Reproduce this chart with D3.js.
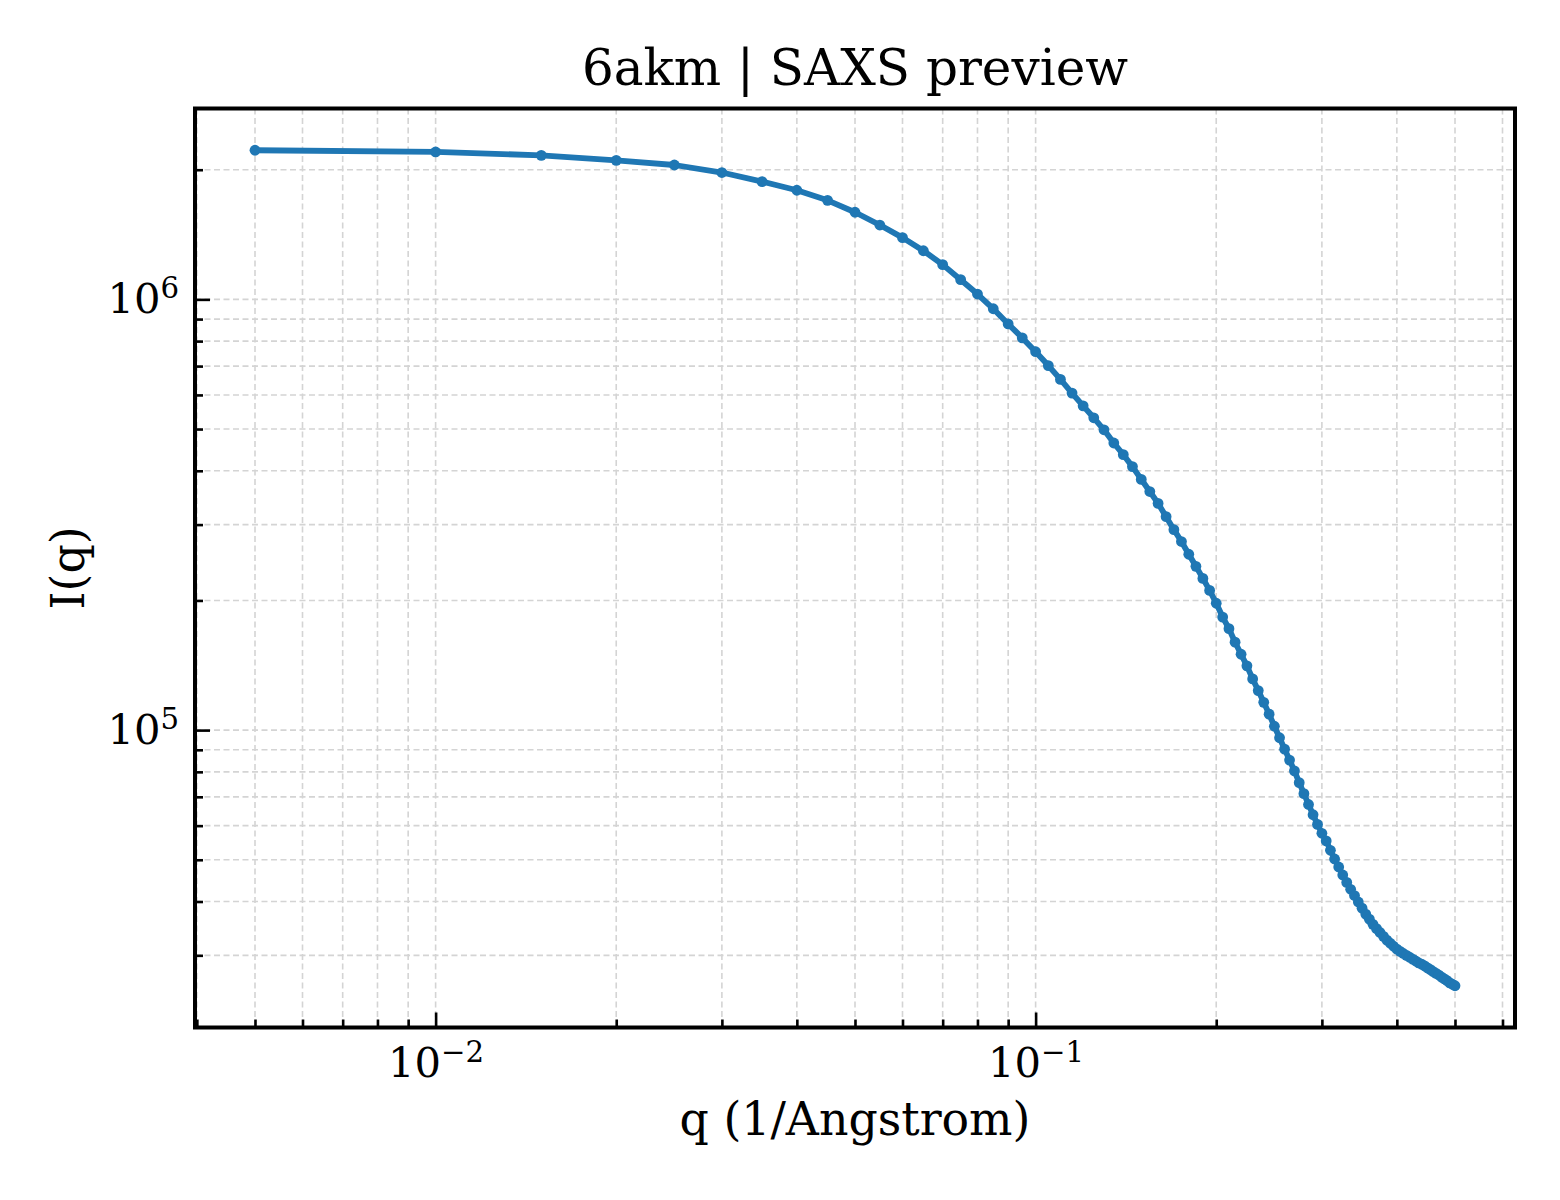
<!DOCTYPE html>
<html>
<head>
<meta charset="utf-8">
<script src="https://cdn.jsdelivr.net/npm/d3@7"></script>
<style>
    body { margin: 0; background: #fff; }
    text { font-family: "DejaVu Serif", serif; fill: #000; }
</style>
</head>
<body>
<div id="canvas"></div>
<script>
// scattering vector q (1/Angstrom)
const qValues = [
    0.005, 0.010, 0.015, 0.020, 0.025, 0.030, 0.035, 0.040, 0.045, 0.050,
    0.055, 0.060, 0.065, 0.070, 0.075, 0.080, 0.085, 0.090, 0.095, 0.100,
    0.105, 0.110, 0.115, 0.120, 0.125, 0.130, 0.135, 0.140, 0.145, 0.150,
    0.155, 0.160, 0.165, 0.170, 0.175, 0.180, 0.185, 0.190, 0.195, 0.200,
    0.205, 0.210, 0.215, 0.220, 0.225, 0.230, 0.235, 0.240, 0.245, 0.250,
    0.255, 0.260, 0.265, 0.270, 0.275, 0.280, 0.285, 0.290, 0.295, 0.300,
    0.305, 0.310, 0.315, 0.320, 0.325, 0.330, 0.335, 0.340, 0.345, 0.350,
    0.355, 0.360, 0.365, 0.370, 0.375, 0.380, 0.385, 0.390, 0.395, 0.400,
    0.405, 0.410, 0.415, 0.420, 0.425, 0.430, 0.435, 0.440, 0.445, 0.450,
    0.455, 0.460, 0.465, 0.470, 0.475, 0.480, 0.485, 0.490, 0.495, 0.500
];

// intensity I(q), estimated from the curve
const intensity = [
    2.219e6, 2.199e6, 2.160e6, 2.103e6, 2.051e6, 1.970e6, 1.877e6, 1.792e6, 1.698e6, 1.593e6,
    1.488e6, 1.391e6, 1.297e6, 1.204e6, 1.111e6, 1.029e6, 9.51e5, 8.77e5, 8.14e5, 7.56e5,
    7.02e5, 6.52e5, 6.06e5, 5.66e5, 5.31e5, 4.98e5, 4.64e5, 4.36e5, 4.09e5, 3.82e5,
    3.58e5, 3.36e5, 3.13e5, 2.92e5, 2.74e5, 2.56e5, 2.40e5, 2.25e5, 2.11e5, 1.97e5,
    1.83e5, 1.72e5, 1.60e5, 1.50e5, 1.41e5, 1.315e5, 1.235e5, 1.16e5, 1.089e5, 1.021e5,
    9.60e4, 9.03e4, 8.52e4, 8.04e4, 7.55e4, 7.12e4, 6.72e4, 6.36e4, 6.04e4, 5.76e4,
    5.53e4, 5.26e4, 5.02e4, 4.81e4, 4.61e4, 4.43e4, 4.27e4, 4.13e4, 3.99e4, 3.86e4,
    3.74e4, 3.64e4, 3.54e4, 3.46e4, 3.39e4, 3.32e4, 3.255e4, 3.20e4, 3.15e4, 3.10e4,
    3.065e4, 3.03e4, 3.00e4, 2.97e4, 2.94e4, 2.91e4, 2.88e4, 2.86e4, 2.835e4, 2.805e4,
    2.78e4, 2.75e4, 2.725e4, 2.70e4, 2.67e4, 2.645e4, 2.62e4, 2.59e4, 2.57e4, 2.55e4
];

// major tick labels (powers of ten)
const xTickExponents = [-2, -1];
const yTickExponents = [5, 6];

const titleText = "6akm | SAXS preview";
const xLabelText = "q (1/Angstrom)";
const yLabelText = "I(q)";

// set the dimensions and margins of the graph
const W = 1560, H = 1200;
const margin = {top: 108.5, right: 45, bottom: 172.5, left: 195},
    width = W - margin.left - margin.right,
    height = H - margin.top - margin.bottom;

const data = qValues.map((q, i) => ({q: q, I: intensity[i]}));

// matplotlib style 5% margins in log space
function logDomain(values) {
    const [lo, hi] = d3.extent(values).map(Math.log10);
    const pad = (hi - lo) * 0.05;
    return [Math.pow(10, lo - pad), Math.pow(10, hi + pad)];
}

const x = d3.scaleLog().domain(logDomain(qValues)).range([0, width]);
const y = d3.scaleLog().domain(logDomain(intensity)).range([height, 0]);

// major and minor tick values inside the domain
function logTicks(scale) {
    const [d0, d1] = scale.domain();
    const major = [], minor = [];
    for (let e = Math.floor(Math.log10(d0)); e <= Math.ceil(Math.log10(d1)); e++) {
        for (let m = 1; m <= 9; m++) {
            const v = m * Math.pow(10, e);
            if (v < d0 || v > d1) continue;
            (m === 1 ? major : minor).push(v);
        }
    }
    return {major, minor};
}
const xt = logTicks(x), yt = logTicks(y);

const svg = d3.select("#canvas")
    .append("svg")
    .attr("width", W)
    .attr("height", H);

const g = svg.append("g")
    .attr("transform", `translate(${margin.left},${margin.top})`);

// grid (major + minor, dashed)
const grid = g.append("g").attr("class", "grid")
    .attr("stroke", "#d4d4d4")
    .attr("stroke-width", 1.6)
    .attr("stroke-dasharray", "6,3.5");

grid.selectAll(".gx")
    .data(xt.major.concat(xt.minor))
    .join("line")
    .attr("x1", d => x(d)).attr("x2", d => x(d))
    .attr("y1", 0).attr("y2", height);

grid.selectAll(".gy")
    .data(yt.major.concat(yt.minor))
    .join("line")
    .attr("y1", d => y(d)).attr("y2", d => y(d))
    .attr("x1", 0).attr("x2", width);

// curve and markers
const line = d3.line()
    .x(d => x(d.q))
    .y(d => y(d.I));

g.append("path")
    .datum(data)
    .attr("fill", "none")
    .attr("stroke", "#1f77b4")
    .attr("stroke-width", 5.8)
    .attr("stroke-linejoin", "round")
    .attr("d", line);

g.selectAll(".pt")
    .data(data)
    .join("circle")
    .attr("cx", d => x(d.q))
    .attr("cy", d => y(d.I))
    .attr("r", 5.4)
    .attr("fill", "#1f77b4");

// superscript labels like 10^-2
function powerLabel(sel, dyShift) {
    sel.selectAll(".tick text").each(function(d) {
        const t = d3.select(this).text(null);
        const e = Math.round(Math.log10(d));
        t.append("tspan").text("10");
        t.append("tspan")
            .attr("font-size", "0.7em")
            .attr("dy", dyShift)
            .text(e < 0 ? "\u2212" + Math.abs(e) : String(e));
    });
}

// x axis: major ticks with labels, minor ticks
const xAxis = g.append("g")
    .attr("transform", `translate(0,${height})`)
    .call(d3.axisBottom(x)
        .tickValues(xTickExponents.map(e => Math.pow(10, e)))
        .tickSizeInner(-15).tickSizeOuter(0).tickPadding(20));
xAxis.call(powerLabel, -15);

g.append("g")
    .attr("transform", `translate(0,${height})`)
    .call(d3.axisBottom(x).tickValues(xt.minor).tickFormat("")
        .tickSizeInner(-8).tickSizeOuter(0));

// y axis
const yAxis = g.append("g")
    .call(d3.axisLeft(y)
        .tickValues(yTickExponents.map(e => Math.pow(10, e)))
        .tickSizeInner(-15).tickSizeOuter(0).tickPadding(16));
yAxis.call(powerLabel, -15);

g.append("g")
    .call(d3.axisLeft(y).tickValues(yt.minor).tickFormat("")
        .tickSizeInner(-8).tickSizeOuter(0));

g.selectAll(".domain").remove();
g.selectAll(".tick line").attr("stroke", "#000").attr("stroke-width", 2.6);
g.selectAll(".tick text")
    .style("font-family", "'DejaVu Serif', serif")
    .style("font-size", "41.7px");

// frame
g.append("rect")
    .attr("width", width).attr("height", height)
    .attr("fill", "none")
    .attr("stroke", "#000")
    .attr("stroke-width", 4);

// title and axis labels
svg.append("text")
    .attr("x", margin.left + width / 2).attr("y", 85)
    .attr("text-anchor", "middle")
    .style("font-size", "50px")
    .text(titleText);

svg.append("text")
    .attr("x", margin.left + width / 2).attr("y", 1135)
    .attr("text-anchor", "middle")
    .style("font-size", "45.8px")
    .text(xLabelText);

svg.append("text")
    .attr("transform", `translate(84,${margin.top + height / 2}) rotate(-90)`)
    .attr("text-anchor", "middle")
    .style("font-size", "45.8px")
    .text(yLabelText);
</script>
</body>
</html>
